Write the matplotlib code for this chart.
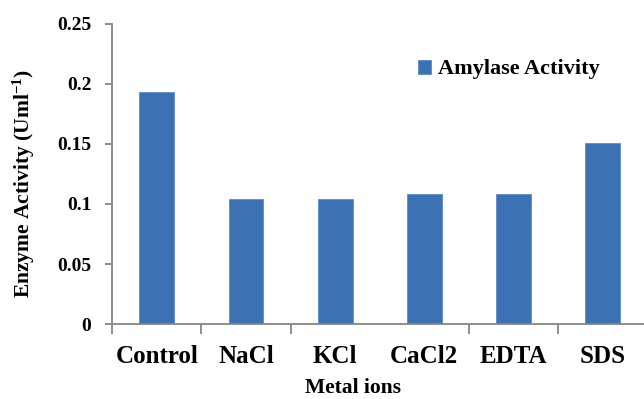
import matplotlib
matplotlib.use("Agg")
import matplotlib.pyplot as plt
import numpy as np

# Amylase activity after treatment with metal ions / reagents
treatments = ["Control", "NaCl", "KCl", "CaCl2", "EDTA", "SDS"]
activity = [0.193, 0.104, 0.104, 0.108, 0.108, 0.151]
y_ticks = [0, 0.05, 0.1, 0.15, 0.2, 0.25]
y_tick_labels = ["0", "0.05", "0.1", "0.15", "0.2", "0.25"]

plt.rcParams["font.family"] = ["Liberation Serif", "DejaVu Serif"]
plt.rcParams["font.weight"] = "bold"
plt.rcParams["mathtext.fontset"] = "custom"
plt.rcParams["mathtext.rm"] = "Liberation Serif:bold"
plt.rcParams["mathtext.default"] = "rm"

BAR = "#3c71b4"
AXIS = "#868686"

fig = plt.figure(figsize=(6.44, 3.99), dpi=100)
ax = fig.add_axes([0.1742, 0.1872, 1.0051 - 0.1742, 0.9411 - 0.1872])

x = np.arange(len(treatments))
ax.bar(x, activity, width=0.39, color=BAR, edgecolor="#5b8bd0", linewidth=0.6,
       label="Amylase Activity", zorder=2)

ax.set_xlim(-0.5, len(treatments) - 0.5)
ax.set_ylim(0, 0.25)

for side in ("top", "right"):
    ax.spines[side].set_visible(False)
for side in ("left", "bottom"):
    ax.spines[side].set_color(AXIS)
    ax.spines[side].set_linewidth(1.3)

ax.set_yticks(y_ticks)
ax.set_yticklabels(y_tick_labels, fontsize=14, fontweight="bold")
ax.tick_params(axis="y", direction="out", length=5, width=1.3, color=AXIS, pad=10)

# category labels centred on bars, tick marks between categories
ax.set_xticks(x)
ax.set_xticklabels(treatments, fontsize=18, fontweight="bold")
ax.tick_params(axis="x", which="major", length=0, pad=15)
ax.set_xticks([-0.5, 0.5, 1.5, 3.5, 4.5], minor=True)
ax.tick_params(axis="x", which="minor", direction="out", length=7, width=1.3, color=AXIS)

fig.text(0.037, 0.541, "Enzyme Activity (Uml$^{-1}$)", rotation=90,
         ha="center", va="center", fontsize=15.5, fontweight="bold")
fig.text(0.548, 0.028, "Metal ions", ha="center", va="center",
         fontsize=15.5, fontweight="bold")

ax.legend(loc="upper left", bbox_to_anchor=(0.554, 0.91), frameon=False,
          handlelength=0.6, handleheight=0.6, handletextpad=0.3,
          borderaxespad=0, prop={"weight": "bold", "size": 16})

fig.savefig("out.png", dpi=100, facecolor="white")
